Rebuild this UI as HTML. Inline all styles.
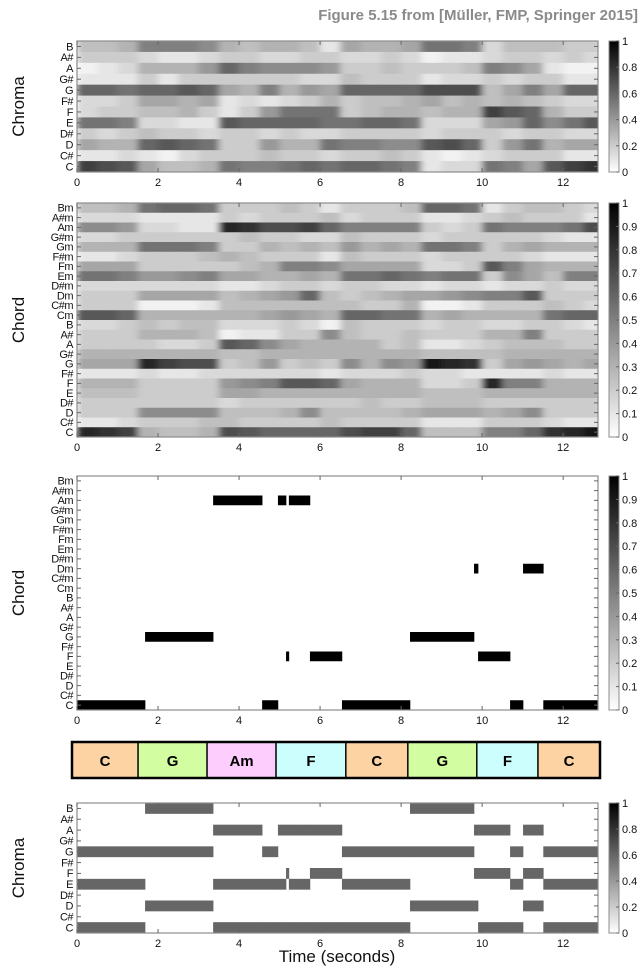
<!DOCTYPE html>
<html><head><meta charset="utf-8"><style>
html,body{margin:0;padding:0;background:#fff;}
svg{display:block;font-family:"Liberation Sans",sans-serif;}
</style></head><body>
<svg id="fig" width="642" height="968" viewBox="0 0 642 968" xmlns="http://www.w3.org/2000/svg">
<text x="638" y="20" text-anchor="end" font-size="15" font-weight="bold" fill="#8a8a8a">Figure 5.15 from [Müller, FMP, Springer 2015]</text>
<defs>
<linearGradient id="cbg" x1="0" y1="1" x2="0" y2="0"><stop offset="0" stop-color="#fff"/><stop offset="1" stop-color="#000"/></linearGradient>
<filter id="hblur" x="0" y="0" width="1" height="1"><feGaussianBlur stdDeviation="3.5 0" edgeMode="duplicate"/></filter>
<clipPath id="clip1"><rect x="77" y="41" width="521" height="131"/></clipPath>
<clipPath id="clip2"><rect x="77" y="203" width="521" height="234"/></clipPath>
</defs>
</svg>
<script>
// ---------- data ----------
const chromaLabels = ["B","A#","A","G#","G","F#","F","E","D#","D","C#","C"]; // top to bottom
const chordLabels = ["Bm","A#m","Am","G#m","Gm","F#m","Fm","Em","D#m","Dm","C#m","Cm","B","A#","A","G#","G","F#","F","E","D#","D","C#","C"];
const frameDur = 0.5;
const xMax = 12.86;
const xTicks = [0,2,4,6,8,10,12];
const cbTicks5 = [0,0.2,0.4,0.6,0.8,1];
const cbTicks10 = [0,0.1,0.2,0.3,0.4,0.5,0.6,0.7,0.8,0.9,1];
const chromaValues = [
[0.25,0.25,0.3,0.5,0.5,0.5,0.45,0.3,0.25,0.3,0.3,0.25,0.1,0.35,0.3,0.3,0.35,0.55,0.55,0.5,0.15,0.25,0.25,0.25,0.2,0.2],
[0.2,0.2,0.2,0.15,0.1,0.1,0.15,0.2,0.2,0.15,0.15,0.2,0.2,0.15,0.15,0.2,0.15,0.05,0.1,0.1,0.15,0.2,0.2,0.15,0.2,0.15],
[0.05,0.1,0.15,0.3,0.3,0.3,0.4,0.6,0.5,0.45,0.45,0.45,0.4,0.2,0.2,0.25,0.2,0.2,0.2,0.25,0.5,0.45,0.35,0.1,0.05,0.05],
[0.1,0.1,0.1,0.2,0.1,0.2,0.2,0.2,0.2,0.2,0.2,0.15,0.15,0.25,0.2,0.2,0.2,0.1,0.15,0.15,0.2,0.15,0.2,0.2,0.1,0.1],
[0.6,0.6,0.55,0.6,0.6,0.65,0.6,0.35,0.3,0.5,0.3,0.4,0.35,0.6,0.6,0.6,0.6,0.7,0.7,0.7,0.25,0.35,0.5,0.35,0.6,0.6],
[0.15,0.15,0.2,0.35,0.35,0.3,0.35,0.1,0.15,0.1,0.15,0.2,0.3,0.2,0.25,0.25,0.3,0.35,0.25,0.3,0.25,0.3,0.25,0.2,0.15,0.15],
[0.15,0.2,0.2,0.25,0.25,0.3,0.2,0.1,0.2,0.4,0.55,0.55,0.55,0.2,0.25,0.3,0.3,0.25,0.3,0.3,0.75,0.65,0.6,0.3,0.2,0.2],
[0.55,0.55,0.5,0.15,0.15,0.1,0.1,0.65,0.6,0.6,0.6,0.6,0.55,0.55,0.6,0.6,0.55,0.15,0.15,0.15,0.35,0.4,0.6,0.45,0.55,0.65],
[0.2,0.15,0.2,0.25,0.2,0.2,0.15,0.2,0.2,0.15,0.2,0.15,0.15,0.2,0.2,0.2,0.2,0.15,0.2,0.2,0.2,0.15,0.2,0.2,0.15,0.15],
[0.35,0.3,0.3,0.6,0.65,0.6,0.55,0.2,0.2,0.4,0.3,0.3,0.55,0.5,0.5,0.45,0.45,0.65,0.7,0.6,0.2,0.4,0.55,0.3,0.35,0.35],
[0.1,0.1,0.15,0.1,0.05,0.15,0.2,0.2,0.2,0.25,0.2,0.2,0.15,0.2,0.2,0.25,0.2,0.1,0.05,0.1,0.15,0.2,0.2,0.2,0.1,0.1],
[0.75,0.7,0.65,0.35,0.25,0.25,0.3,0.55,0.5,0.5,0.55,0.6,0.55,0.6,0.6,0.55,0.5,0.1,0.15,0.15,0.55,0.5,0.35,0.65,0.75,0.8]
];
const chordValues = [
[0.25,0.25,0.3,0.55,0.6,0.6,0.55,0.2,0.2,0.2,0.25,0.2,0.1,0.2,0.2,0.2,0.25,0.6,0.6,0.55,0.1,0.2,0.25,0.25,0.2,0.15],
[0.15,0.15,0.15,0.1,0.1,0.1,0.1,0.2,0.15,0.2,0.2,0.2,0.25,0.15,0.2,0.2,0.2,0.1,0.1,0.15,0.2,0.25,0.2,0.2,0.2,0.1],
[0.45,0.45,0.4,0.15,0.15,0.1,0.1,0.85,0.8,0.7,0.7,0.75,0.6,0.5,0.5,0.5,0.5,0.2,0.15,0.2,0.55,0.5,0.5,0.5,0.55,0.7],
[0.15,0.15,0.2,0.2,0.2,0.2,0.2,0.2,0.25,0.2,0.2,0.15,0.15,0.25,0.2,0.2,0.2,0.15,0.2,0.2,0.2,0.2,0.2,0.15,0.1,0.1],
[0.3,0.3,0.3,0.55,0.55,0.55,0.5,0.2,0.2,0.3,0.25,0.3,0.25,0.4,0.3,0.35,0.3,0.55,0.55,0.5,0.2,0.3,0.35,0.3,0.3,0.3],
[0.1,0.1,0.15,0.2,0.2,0.2,0.25,0.3,0.25,0.2,0.2,0.2,0.1,0.25,0.2,0.2,0.2,0.15,0.2,0.2,0.2,0.2,0.15,0.1,0.1,0.1],
[0.35,0.35,0.35,0.2,0.2,0.2,0.2,0.2,0.25,0.3,0.5,0.5,0.45,0.35,0.35,0.35,0.35,0.15,0.15,0.2,0.65,0.5,0.35,0.3,0.3,0.3],
[0.55,0.55,0.5,0.4,0.4,0.45,0.5,0.35,0.35,0.3,0.3,0.35,0.3,0.55,0.55,0.6,0.55,0.5,0.55,0.55,0.2,0.45,0.35,0.25,0.5,0.5],
[0.15,0.15,0.15,0.15,0.15,0.15,0.15,0.1,0.1,0.15,0.2,0.2,0.15,0.2,0.2,0.15,0.15,0.1,0.15,0.15,0.1,0.15,0.15,0.2,0.15,0.15],
[0.2,0.2,0.2,0.35,0.35,0.35,0.35,0.25,0.3,0.35,0.4,0.6,0.25,0.2,0.25,0.3,0.35,0.35,0.4,0.45,0.5,0.5,0.65,0.2,0.2,0.2],
[0.2,0.2,0.2,0.05,0.05,0.05,0.1,0.25,0.25,0.25,0.25,0.25,0.25,0.25,0.2,0.2,0.3,0.05,0.05,0.1,0.2,0.2,0.2,0.25,0.2,0.15],
[0.65,0.65,0.6,0.3,0.3,0.3,0.3,0.3,0.3,0.35,0.4,0.35,0.3,0.6,0.6,0.55,0.55,0.3,0.35,0.3,0.3,0.3,0.3,0.55,0.6,0.6],
[0.15,0.15,0.2,0.25,0.2,0.25,0.25,0.15,0.15,0.15,0.2,0.15,0.05,0.25,0.2,0.2,0.2,0.15,0.2,0.2,0.15,0.15,0.2,0.2,0.15,0.1],
[0.2,0.2,0.2,0.3,0.3,0.3,0.25,0.05,0.1,0.1,0.2,0.2,0.45,0.25,0.2,0.2,0.25,0.2,0.2,0.2,0.3,0.3,0.5,0.2,0.2,0.2],
[0.2,0.2,0.2,0.2,0.15,0.15,0.2,0.65,0.6,0.45,0.35,0.3,0.3,0.3,0.3,0.2,0.25,0.1,0.1,0.15,0.2,0.25,0.25,0.25,0.2,0.2],
[0.3,0.3,0.3,0.3,0.3,0.3,0.3,0.25,0.25,0.3,0.3,0.3,0.3,0.3,0.3,0.3,0.3,0.25,0.25,0.25,0.25,0.3,0.3,0.3,0.3,0.3],
[0.35,0.35,0.35,0.85,0.75,0.7,0.7,0.2,0.25,0.4,0.2,0.25,0.2,0.45,0.3,0.45,0.4,0.9,0.85,0.8,0.2,0.35,0.4,0.35,0.3,0.35],
[0.1,0.1,0.1,0.15,0.1,0.1,0.15,0.15,0.15,0.15,0.15,0.15,0.1,0.15,0.15,0.15,0.2,0.15,0.15,0.1,0.1,0.1,0.1,0.15,0.1,0.1],
[0.3,0.3,0.3,0.2,0.2,0.2,0.2,0.4,0.45,0.5,0.65,0.65,0.6,0.35,0.3,0.3,0.3,0.15,0.15,0.2,0.85,0.5,0.5,0.3,0.3,0.3],
[0.25,0.25,0.25,0.2,0.2,0.2,0.2,0.35,0.35,0.3,0.3,0.3,0.3,0.3,0.3,0.3,0.3,0.25,0.25,0.25,0.3,0.3,0.3,0.3,0.3,0.3],
[0.2,0.2,0.2,0.2,0.2,0.2,0.2,0.15,0.2,0.2,0.2,0.2,0.2,0.2,0.25,0.2,0.2,0.25,0.25,0.25,0.2,0.2,0.2,0.2,0.2,0.2],
[0.2,0.2,0.2,0.45,0.45,0.45,0.45,0.25,0.25,0.25,0.3,0.45,0.25,0.25,0.25,0.25,0.3,0.35,0.35,0.35,0.3,0.35,0.45,0.2,0.2,0.2],
[0.1,0.1,0.15,0.2,0.2,0.2,0.25,0.25,0.2,0.2,0.2,0.2,0.25,0.2,0.2,0.2,0.2,0.1,0.1,0.1,0.2,0.2,0.2,0.15,0.1,0.1],
[0.85,0.8,0.75,0.3,0.25,0.25,0.3,0.7,0.65,0.6,0.6,0.6,0.6,0.7,0.75,0.75,0.6,0.25,0.25,0.25,0.5,0.5,0.6,0.8,0.85,0.9]
];
// recognized chord segments
const segChord = ["C","G","Am","C","Am","F","Am","F","C","G","Dm","F","C","Dm","C"];
const segStart = [0,1.68,3.36,4.57,4.96,5.16,5.23,5.75,6.54,8.22,9.80,9.90,10.69,11.01,11.51];
const segEnd   = [1.68,3.36,4.57,4.96,5.16,5.23,5.75,6.54,8.22,9.80,9.90,10.69,11.01,11.51,12.86];
const chordTemplates = {"C":["C","E","G"],"G":["G","B","D"],"Am":["A","C","E"],"F":["F","A","C"],"Dm":["D","F","A"]};
const binaryValue = 0.6;
// ground-truth annotation
const annLabels = ["C","G","Am","F","C","G","F","C"];
const annStart = [0,1.61,3.29,4.97,6.67,8.18,9.86,11.35];
const annEnd   = [1.61,3.29,4.97,6.67,8.18,9.86,11.35,12.86];
const annColors = {"C":"#fdd3a4","G":"#d2fda0","Am":"#fdcdfd","F":"#ccfefe"};

// ---------- drawing ----------
const NS="http://www.w3.org/2000/svg";
const svg=document.getElementById('fig');
function mk(tag,attrs,parent){const e=document.createElementNS(NS,tag);for(const k in attrs)e.setAttribute(k,attrs[k]);(parent||svg).appendChild(e);return e;}
const X0=77,X1=598;
const xScale=t=>X0+(t/xMax)*(X1-X0);
const gray=v=>{const g=Math.round(255*(1-Math.max(0,Math.min(1,v))));return `rgb(${g},${g},${g})`;};

function panel(name,top,bot,labels,ylabel,cbTicks){
  const g=mk('g',{});
  
  
  const rowH=(bot-top)/labels.length;
  const yRow=i=>top+i*rowH;
  return {g,rowH,yRow,top,bot,labels,ylabel,cbTicks,name};
}
function frame(p){
  const {g,top,bot,labels,rowH}=p;
  const border=mk('rect',{x:X0,y:top,width:X1-X0,height:bot-top,fill:'none',stroke:'#8c8c8c','stroke-width':1.2},g);
  
  
  labels.forEach((l,i)=>{
    const yc=top+(i+0.5)*rowH;
    mk('line',{x1:X0,x2:X0+4,y1:yc,y2:yc,stroke:'#666'},g);
    mk('line',{x1:X1-4,x2:X1,y1:yc,y2:yc,stroke:'#666'},g);
    const t=mk('text',{x:X0-4,y:yc+3.8,'text-anchor':'end','font-size':11,fill:'#111','letter-spacing':'-0.5'},g);
    t.textContent=l;
    
    
  });
  xTicks.forEach(v=>{
    const x=xScale(v);
    mk('line',{x1:x,x2:x,y1:top,y2:top+4,stroke:'#666'},g);
    mk('line',{x1:x,x2:x,y1:bot-4,y2:bot,stroke:'#666'},g);
    const t=mk('text',{x:x,y:bot+14,'text-anchor':'middle','font-size':11,fill:'#111'},g);
    t.textContent=v;
    
    
  });
  const yl=mk('text',{x:0,y:0,'text-anchor':'middle','font-size':17,fill:'#111',transform:`translate(24,${(top+bot)/2}) rotate(-90)`},g);
  yl.textContent=p.ylabel;
  
  
  const cb=mk('rect',{x:609,y:top,width:10,height:bot-top,fill:'url(#cbg)',stroke:'#8c8c8c','stroke-width':1},g);
  
  
  p.cbTicks.forEach(v=>{
    const y=bot-v*(bot-top);
    mk('line',{x1:616,x2:619,y1:y,y2:y,stroke:'#666'},g);
    const t=mk('text',{x:622,y:y+4,'font-size':11,fill:'#111'},g);
    t.textContent=v;
    
    
  });
}
function heat(p,values,clipId){
  const outer=mk('g',{'clip-path':`url(#${clipId})`},p.g);
  const hg=mk('g',{filter:'url(#hblur)'},outer);
  values.forEach((row,i)=>{
    row.forEach((v,k)=>{
      const t0=k*frameDur,t1=(k+1)*frameDur;
      const r=mk('rect',{x:xScale(t0),y:p.yRow(i),width:xScale(t1)-xScale(t0)+0.6,height:p.rowH+0.4,fill:gray(v)},hg);
      
      
    });
  });
}
function segs(p,rowsFor,val){
  segChord.forEach((c,s)=>{
    rowsFor(c).forEach(lbl=>{
      const i=p.labels.indexOf(lbl);
      const r=mk('rect',{x:xScale(segStart[s]),y:p.yRow(i),width:xScale(segEnd[s])-xScale(segStart[s])+0.3,height:p.rowH,fill:gray(val)},p.g);
      
      
    });
  });
}

const p1=panel('chroma-panel',41,172,chromaLabels,'Chroma',cbTicks5);
heat(p1,chromaValues,'clip1'); frame(p1);
const p2=panel('chord-similarity-panel',203,437,chordLabels,'Chord',cbTicks10);
heat(p2,chordValues,'clip2'); frame(p2);
const p3=panel('chord-recognition-panel',476,710,chordLabels,'Chord',cbTicks10);
segs(p3,c=>[c],1); frame(p3);
const p4=panel('chord-chroma-panel',803,933,chromaLabels,'Chroma',cbTicks5);
segs(p4,c=>chordTemplates[c],binaryValue); frame(p4);

// annotation bar
const BX0=72,BX1=600;
const bScale=t=>BX0+(t/xMax)*(BX1-BX0);
const ag=mk('g',{});


annLabels.forEach((l,i)=>{
  const x0=bScale(annStart[i]),x1=bScale(annEnd[i]);
  const r=mk('rect',{x:x0,y:742,width:x1-x0,height:36,fill:annColors[l],stroke:'#111','stroke-width':1.5},ag);
  
  
  const t=mk('text',{x:(x0+x1)/2,y:766,'text-anchor':'middle','font-size':15,'font-weight':'bold',fill:'#000'},ag);
  t.textContent=l;
  
  
});
mk('rect',{x:BX0,y:742,width:BX1-BX0,height:36,fill:'none',stroke:'#000','stroke-width':2.5},ag);

const xl=mk('text',{x:337,y:962,'text-anchor':'middle','font-size':17,fill:'#111'});
xl.textContent='Time (seconds)';


</script>
</body></html>
